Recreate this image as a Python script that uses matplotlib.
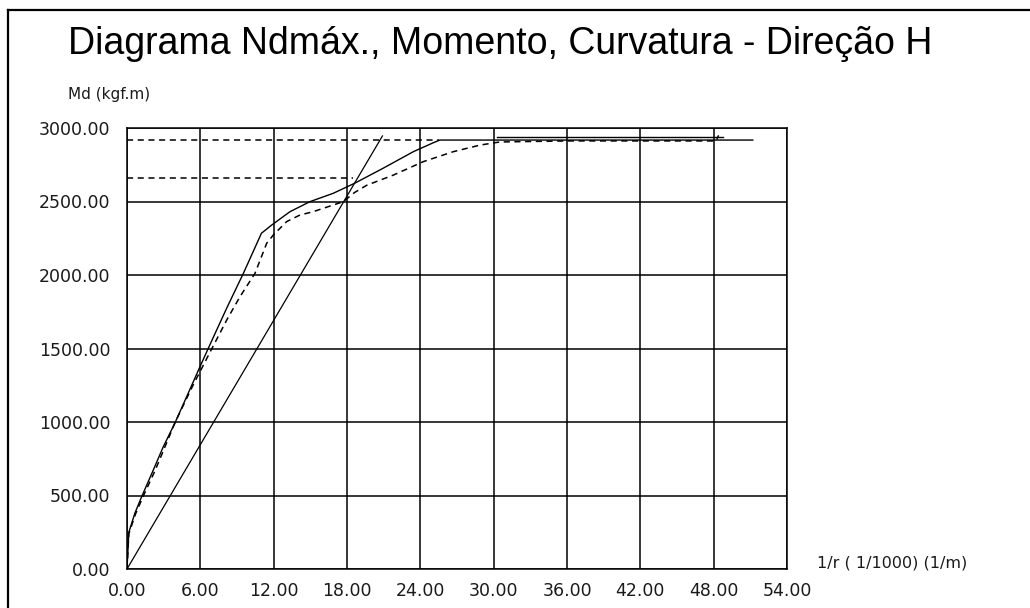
import matplotlib
matplotlib.use("Agg")
import matplotlib.pyplot as plt
from matplotlib.lines import Line2D

plt.rcParams['font.family'] = ['Liberation Sans', 'DejaVu Sans']

# ---- data ----
title = "Diagrama Ndmáx., Momento, Curvatura - Direção H"
ylabel = "Md (kgf.m)"
xlabel = "1/r ( 1/1000) (1/m)"

x_ticks = [0, 6, 12, 18, 24, 30, 36, 42, 48, 54]
y_ticks = [0, 500, 1000, 1500, 2000, 2500, 3000]

# solid moment-curvature curve
solid_x = [0.0, 0.15, 0.65, 1.2, 2.15, 2.97, 3.93, 4.88, 5.97, 7.0, 8.16, 9.52, 11.0,
           11.84, 13.34, 14.97, 16.88, 18.65, 20.95, 23.43, 25.07, 25.6, 51.2]
solid_y = [0, 250, 381, 492, 673, 832, 995, 1172, 1376, 1565, 1775, 2011, 2284,
           2340, 2431, 2499, 2556, 2625, 2726, 2839, 2900, 2918, 2918]

# dashed moment-curvature curve
dash_x = [0.0, 0.15, 0.7, 1.3, 2.3, 3.1, 3.95, 5.4, 6.93, 8.2, 9.24, 10.47, 11.43, 11.97,
          13.06, 14.15, 15.24, 17.7, 18.6, 19.6, 21.8, 24.24, 26.7, 28.9, 30.5, 36.0, 42.0,
          48.2, 48.4]
dash_y = [0, 240, 375, 490, 670, 830, 1000, 1250, 1497, 1700, 1852, 2011, 2216, 2272,
          2363, 2408, 2431, 2499, 2560, 2610, 2680, 2771, 2839, 2884, 2905, 2912, 2912,
          2912, 2950]

# upper short line near the top
top_x = [30.3, 48.8]
top_y = [2937, 2937]

# secant straight line
line_x = [0.0, 20.9]
line_y = [0, 2946]

# horizontal reference lines (value, x end)
ref_y = [2918, 2658]
ref_xend = [25.5, 18.5]

W, H = 1030, 608
fig = plt.figure(figsize=(W / 100, H / 100), dpi=100)
fig.patch.set_facecolor('white')

# axes placement in pixels
L, R, T, B = 127, 787, 128, 569
ax = fig.add_axes([L / W, 1 - B / H, (R - L) / W, (B - T) / H])
ax.set_xlim(0, 54)
ax.set_ylim(0, 3000)
ax.set_xticks(x_ticks)
ax.set_yticks(y_ticks)
ax.set_xticklabels([f"{v:.2f}" for v in x_ticks], family='DejaVu Sans')
ax.set_yticklabels([f"{v:.2f}" for v in y_ticks], family='DejaVu Sans')
ax.tick_params(length=0, labelsize=12.5, labelcolor='#1a1a1a')
ax.tick_params(axis='x', pad=9)
ax.tick_params(axis='y', pad=12)
ax.grid(True, color='black', linewidth=1.1)
ax.set_axisbelow(True)
for s in ax.spines.values():
    s.set_linewidth(1.1)
    s.set_color('black')

for yv, xe in zip(ref_y, ref_xend):
    ax.plot([0, xe], [yv, yv], color='black', lw=1.1, ls=(0, (4, 3)))

ax.plot(solid_x, solid_y, color='black', lw=1.0)
ax.plot(dash_x, dash_y, color='black', lw=1.1, ls=(0, (4, 3)))
ax.plot(top_x, top_y, color='black', lw=1.0)
ax.plot(line_x, line_y, color='black', lw=0.9)

# texts
fig.text(68 / W, 1 - 44 / H, title, fontsize=27, ha='left', va='center', color='black')
fig.text(68 / W, 1 - 95 / H, ylabel, fontsize=11, ha='left', va='center', color='#1a1a1a',
         family='DejaVu Sans')
fig.text(817 / W, 1 - 563 / H, xlabel, fontsize=11.5, ha='left', va='center', color='#1a1a1a',
         family='DejaVu Sans')

# outer frame lines (left and top)
fig.add_artist(Line2D([8 / W, 8 / W], [0, 1 - 10 / H], color='black', lw=1.6))
fig.add_artist(Line2D([8 / W, 1.0], [1 - 10 / H, 1 - 10 / H], color='black', lw=1.6))

fig.savefig('out.png', dpi=100, facecolor='white')
